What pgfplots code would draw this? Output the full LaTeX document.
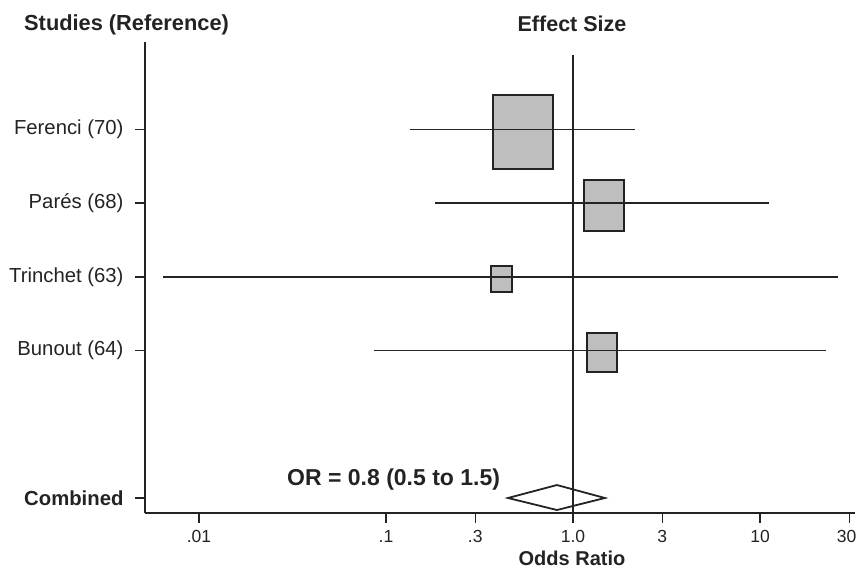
\documentclass[border=0pt]{standalone}
\usepackage{fontspec}
\setmainfont{Liberation Sans}
\usepackage{pgfplots}
\pgfplotsset{compat=1.18}
\definecolor{ink}{RGB}{35,35,35}
\definecolor{boxfill}{RGB}{190,190,190}
\begin{document}
\begin{tikzpicture}[x=1pt,y=1pt]
\useasboundingbox (0,0) rectangle (857,570);
\begin{axis}[
  at={(145pt,57pt)}, anchor=south west,
  scale only axis, width=710pt, height=471pt,
  xmode=log, xmin=0.00514, xmax=32.2,
  ymin=-0.2035, ymax=6.187,
  axis x line*=bottom, axis y line*=left,
  axis line style={ink, line width=1.8pt, -},
  xtick={0.01,0.1,0.3,1,3,10,30},
  xticklabels={.01,.1,.3,1.0,3,10,\makebox[14pt][r]{30}},
  minor xtick={},
  ytick={0,2,3,4,5},
  yticklabels={\textbf{Combined}\hspace{-5pt}, Bunout (64), Trinchet (63), Parés (68), Ferenci (70)},
  tick align=outside, major tick length=10pt,
  tick style={ink, line width=1.5pt},
  xticklabel style={font=\fontsize{17.5}{20}\selectfont, text=ink, yshift=-4pt},
  yticklabel style={font=\fontsize{20.3}{24}\selectfont, text=ink, xshift=-8pt},
  clip=false,
]
% study boxes (weights)
\addplot[fill=boxfill, draw=ink, line width=1.8pt] coordinates {(0.373,4.46) (0.782,4.46) (0.782,5.47) (0.373,5.47)} -- cycle;
\addplot[fill=boxfill, draw=ink, line width=1.8pt] coordinates {(1.145,3.62) (1.875,3.62) (1.875,4.31) (1.145,4.31)} -- cycle;
\addplot[fill=boxfill, draw=ink, line width=1.8pt] coordinates {(0.364,2.80) (0.472,2.80) (0.472,3.15) (0.364,3.15)} -- cycle;
\addplot[fill=boxfill, draw=ink, line width=1.8pt] coordinates {(1.188,1.71) (1.72,1.71) (1.72,2.24) (1.188,2.24)} -- cycle;
% confidence intervals
\addplot[ink, line width=1.6pt] coordinates {(0.134,5) (2.15,5)};
\addplot[ink, line width=1.6pt] coordinates {(0.183,4) (11.2,4)};
\addplot[ink, line width=1.6pt] coordinates {(0.0064,3) (26.1,3)};
\addplot[ink, line width=1.6pt] coordinates {(0.086,2) (22.5,2)};
% combined diamond
\addplot[fill=white, draw=ink, line width=1.8pt] coordinates {(0.449,0) (0.82,0.176) (1.48,0) (0.82,-0.163)} -- cycle;
% line of no effect
\addplot[ink, line width=1.5pt] coordinates {(1,-0.2035) (1,6.01)};
\end{axis}
\node[anchor=west, inner sep=0, font=\bfseries\fontsize{21.8}{25}\selectfont, text=ink] at (24,545) {Studies (Reference)};
\node[inner sep=0, font=\bfseries\fontsize{21.5}{25}\selectfont, text=ink] at (572,546) {Effect Size};
\node[anchor=west, inner sep=0, font=\bfseries\fontsize{23}{27}\selectfont, text=ink] at (287,90) {OR = 0.8 (0.5 to 1.5)};
\node[inner sep=0, font=\bfseries\fontsize{20}{24}\selectfont, text=ink] at (572,12) {Odds Ratio};
\end{tikzpicture}
\end{document}
